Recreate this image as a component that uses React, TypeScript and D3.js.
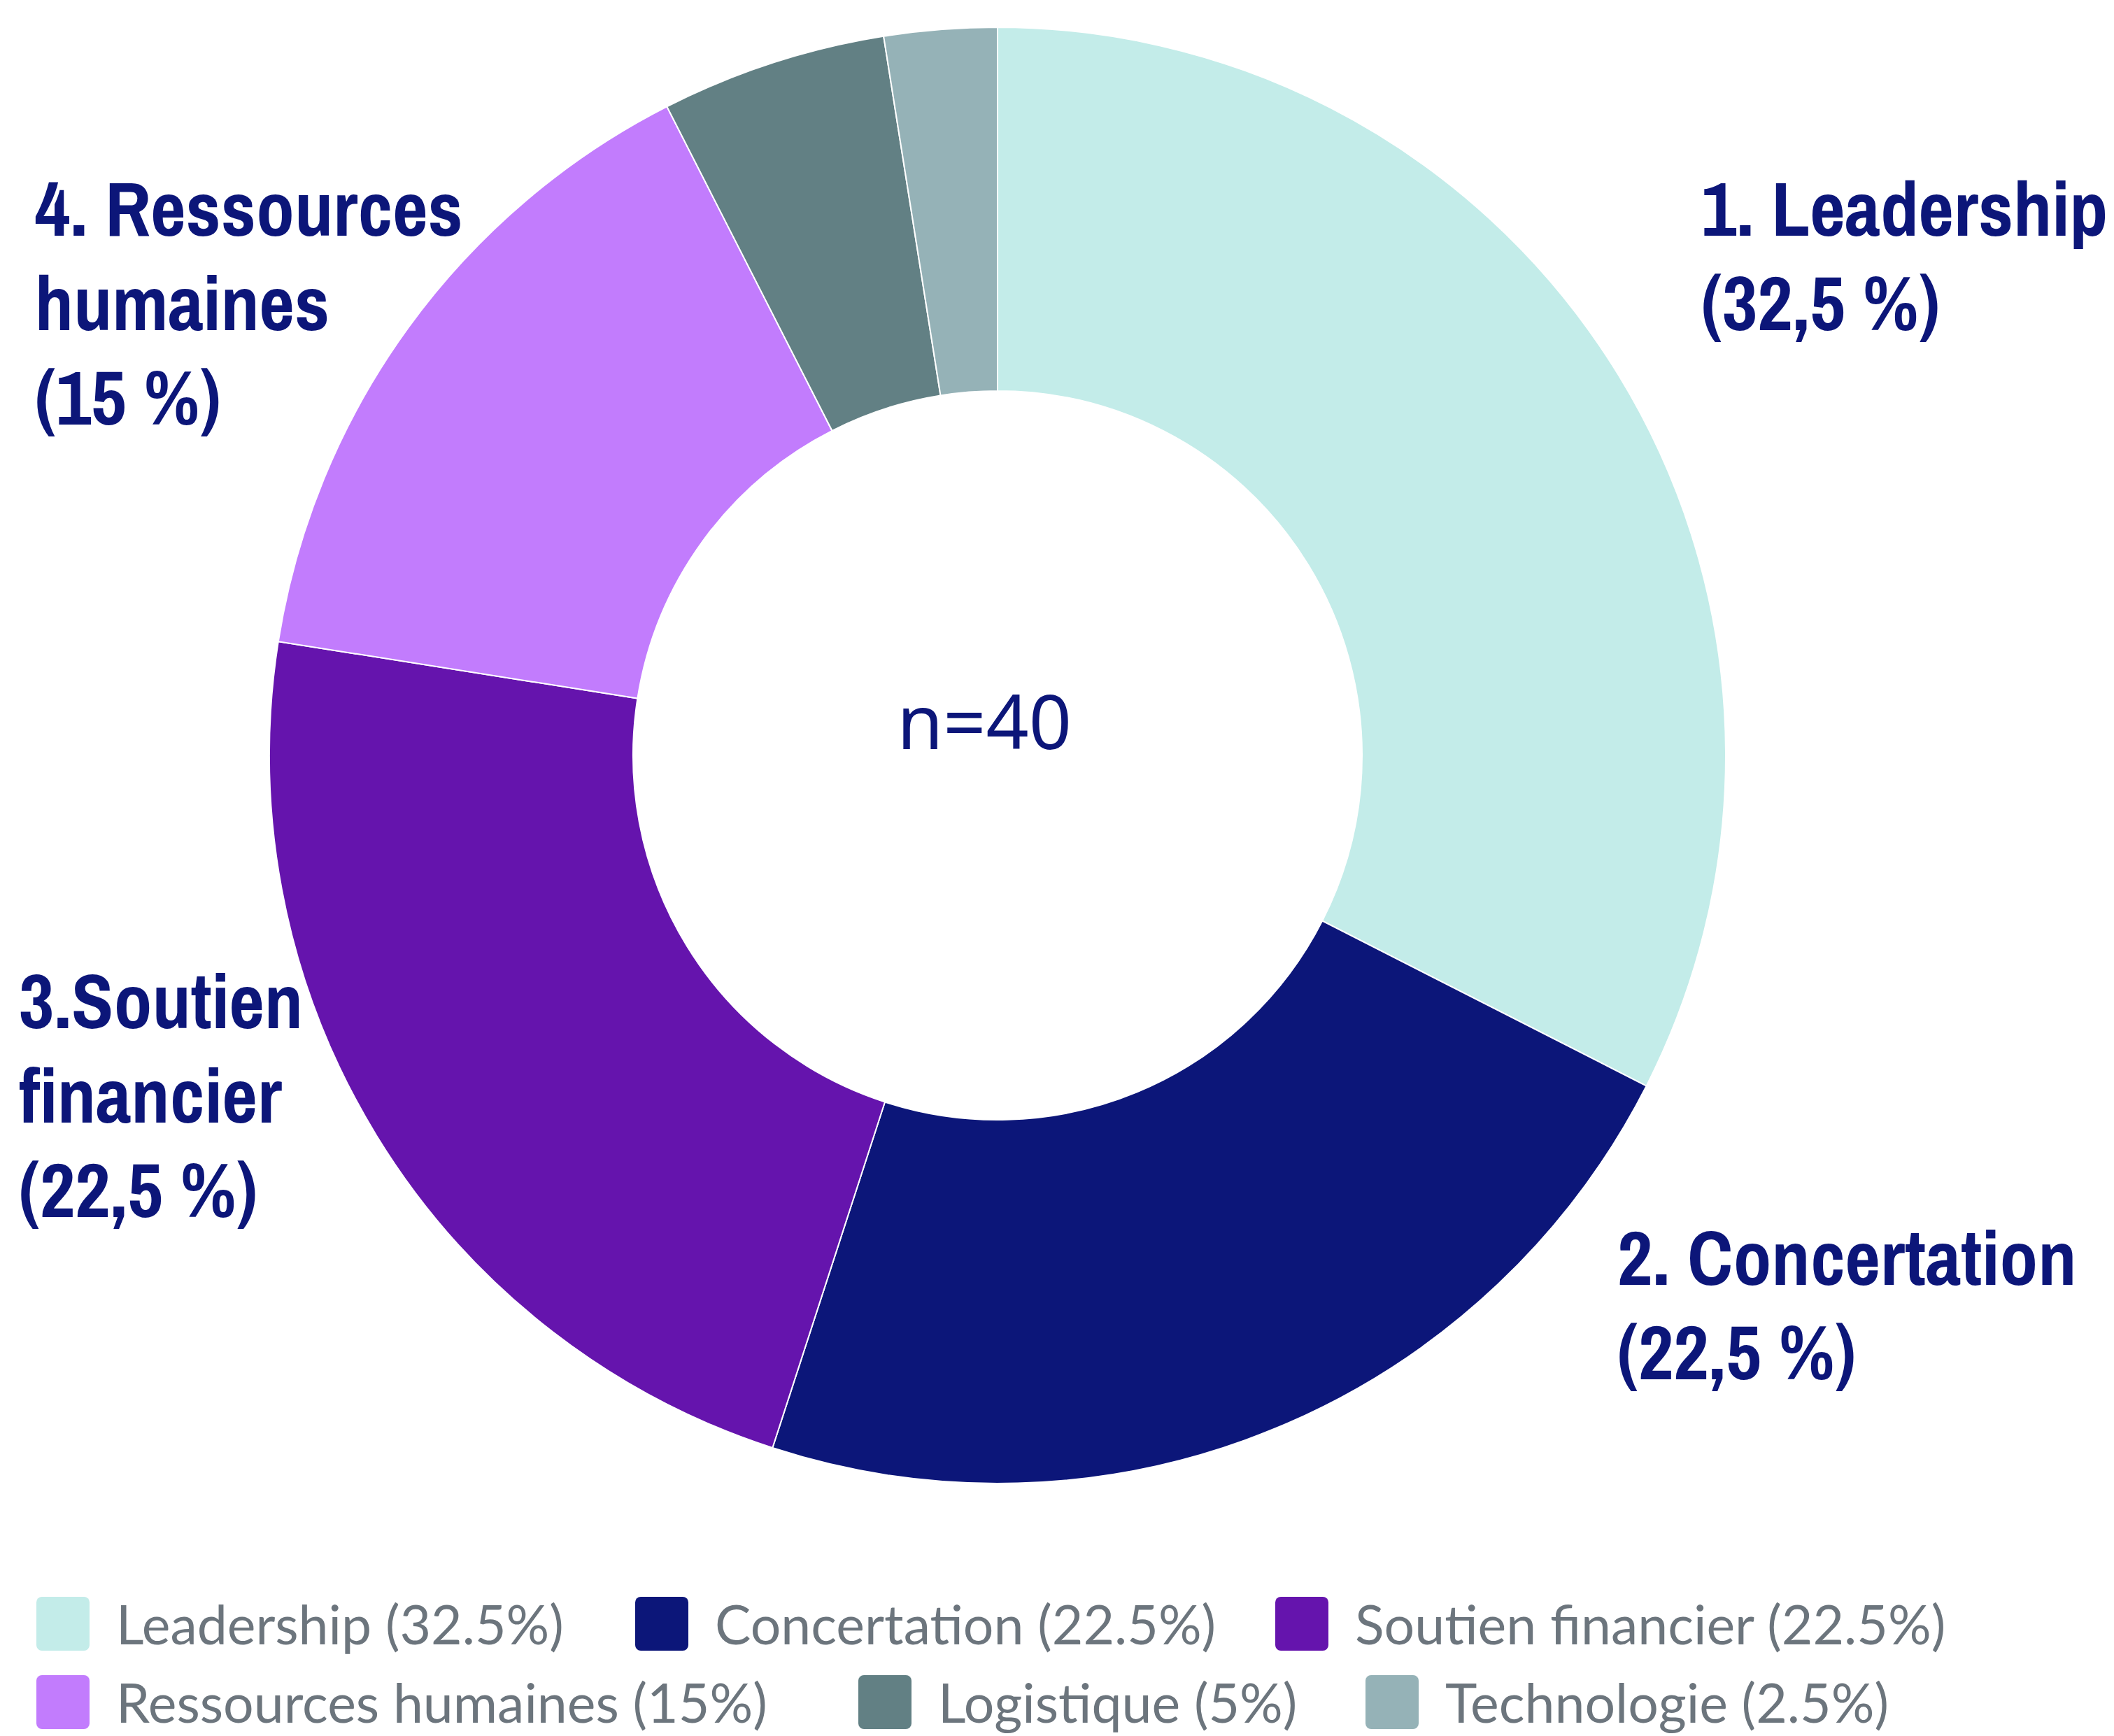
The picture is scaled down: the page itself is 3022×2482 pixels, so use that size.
import React from "react";
import * as d3 from "d3";

const categories = ["Leadership", "Concertation", "Soutien financier", "Ressources humaines", "Logistique", "Technologie"];
const values = [32.5, 22.5, 22.5, 15, 5, 2.5];
const colors = ["#c3ece9", "#0c1679", "#6514ad", "#c27cfd", "#628084", "#95b2b7"];
const legendLabels = ["Leadership (32.5%)", "Concertation (22.5%)", "Soutien financier (22.5%)", "Ressources humaines (15%)", "Logistique (5%)", "Technologie (2.5%)"];
const calloutLines = [
  ["1. Leadership", "(32,5 %)"],
  ["2. Concertation", "(22,5 %)"],
  ["3.Soutien", "financier", "(22,5 %)"],
  ["4. Ressources", "humaines", "(15 %)"],
];
const centerText = "n=40";

const W = 3022, H = 2482;
const cx = 1426, cy = 1080, R = 1041, r0 = 521;

const calloutPos = [
  { x: 2432, y: 337 },
  { x: 2312, y: 1837 },
  { x: 27, y: 1470 },
  { x: 50, y: 337 },
];
const legendPos = [
  { x: 52, y: 2283 }, { x: 908, y: 2283 }, { x: 1823, y: 2283 },
  { x: 52, y: 2395 }, { x: 1227, y: 2395 }, { x: 1952, y: 2395 },
];

export default function App() {
  const pie = d3.pie<number>().sort(null).value((d) => d);
  const arcs = pie(values);
  const arc = d3.arc<d3.PieArcDatum<number>>().innerRadius(r0).outerRadius(R);
  const labelFont = "'Liberation Sans Narrow', 'Archivo Narrow', 'DejaVu Sans Condensed', sans-serif";
  return (
    <svg width={W} height={H} style={{ position: "absolute", left: 0, top: 0, background: "#fff" }}>
      <g transform={`translate(${cx},${cy})`}>
        {arcs.map((a, i) => (
          <path key={categories[i]} d={arc(a) || ""} fill={colors[i]} stroke="#fff" strokeWidth={2} />
        ))}
      </g>
      <text x={1407} y={1071} textAnchor="middle" fontFamily="'Noto Sans', 'Open Sans', sans-serif" fontSize={107} fill="#0c1679">
        {centerText}
      </text>
      {calloutLines.map((lines, i) => (
        <text key={i} fontFamily={labelFont} fontStretch="condensed" fontWeight="bold" fontSize={110} fill="#0c1679">
          {lines.map((l, j) => (
            <tspan key={j} x={calloutPos[i].x} y={calloutPos[i].y + j * 135}>{l}</tspan>
          ))}
        </text>
      ))}
      {legendLabels.map((l, i) => (
        <g key={l}>
          <rect x={legendPos[i].x} y={legendPos[i].y} width={76} height={77} rx={8} fill={colors[i]} />
          <text x={legendPos[i].x + 114} y={legendPos[i].y + 68} fontFamily="Lato, sans-serif" fontSize={77} fill="#6c757d">{l}</text>
        </g>
      ))}
    </svg>
  );
}
